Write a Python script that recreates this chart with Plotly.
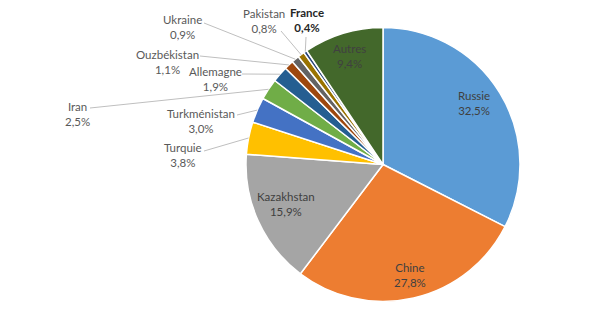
import math
import plotly.graph_objects as go

# ---- data ----
pays = ["Russie", "Chine", "Kazakhstan", "Turquie", "Turkménistan", "Iran",
        "Allemagne", "Ouzbékistan", "Ukraine", "Pakistan", "France", "Autres"]
parts = [32.5, 27.8, 15.9, 3.8, 3.0, 2.5, 1.9, 1.1, 0.9, 0.8, 0.4, 9.4]
couleurs = ["#5B9BD5", "#ED7D31", "#A5A5A5", "#FFC000", "#4472C4", "#70AD47",
            "#255E91", "#9E480E", "#636363", "#997300", "#264478", "#43682B"]

# ---- layout geometry (pixels) ----
W, H = 607, 310
CX, CY, R = 383, 164.5, 137

# label positions (label centre x, first-line centre y) and leader start points
label_pos = {
    "Russie": (474, 96, None),
    "Chine": (410, 268, None),
    "Kazakhstan": (286, 197, None),
    "Autres": (349, 49, None),
    "Turquie": (183, 148, (204, 151)),
    "Turkménistan": (201, 114, (237, 115)),
    "Iran": (77, 107, (90, 108)),
    "Allemagne": (215, 72, (242, 74)),
    "Ouzbékistan": (167, 55, (200, 56)),
    "Ukraine": (182, 20, (204, 23)),
    "Pakistan": (264, 14, (281, 31)),
    "France": (307, 13, (306, 37)),
}
inside = {"Russie", "Chine", "Kazakhstan", "Autres"}


def px(x):
    return x / W


def py(y):
    return 1 - y / H


fig = go.Figure(go.Pie(
    labels=pays, values=parts, sort=False, direction="clockwise", rotation=0,
    marker=dict(colors=couleurs, line=dict(color="white", width=1.5)),
    textinfo="none", hoverinfo="label+percent",
    domain=dict(x=[px(CX - R), px(CX + R)], y=[py(CY + R), py(CY - R)]),
    showlegend=False,
))

annotations = []
shapes = []
cum = 0.0
total = sum(parts)
for nom, val in zip(pays, parts):
    mid = (cum + val / 2) / total * 2 * math.pi
    cum += val
    lx, ly, start = label_pos[nom]
    pct = f"{val:.1f}".replace(".", ",") + "%"
    bold = nom == "France"
    txt = f"<b>{nom}</b><br><b>{pct}</b>" if bold else f"{nom}<br>{pct}"
    color = "#404040" if nom in inside else ("#262626" if bold else "#595959")
    annotations.append(dict(
        x=px(lx), y=py(ly - 9), xref="paper", yref="paper", text=txt,
        showarrow=False, xanchor="center", yanchor="top", align="center",
        font=dict(family="Lato, sans-serif", size=11.5, color=color)))
    if start is not None:
        ex = CX + R * math.sin(mid)
        ey = CY - R * math.cos(mid)
        shapes.append(dict(type="line", xref="paper", yref="paper",
                           x0=px(start[0]), y0=py(start[1]), x1=px(ex), y1=py(ey),
                           line=dict(color="#BFBFBF", width=1)))

fig.update_layout(
    width=W, height=H, margin=dict(l=0, r=0, t=0, b=0),
    paper_bgcolor="white", plot_bgcolor="white",
    annotations=annotations, shapes=shapes,
)
fig.write_html("out.html")
